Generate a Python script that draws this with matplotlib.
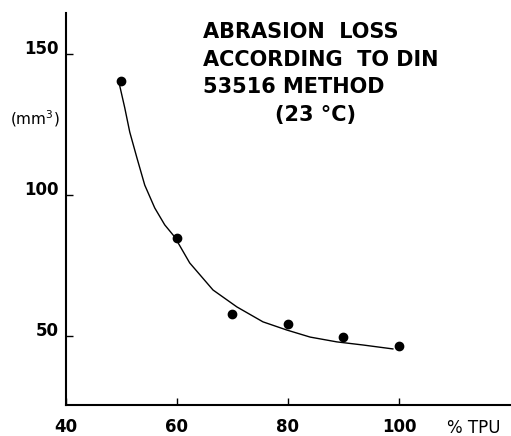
import matplotlib
matplotlib.use("Agg")
import matplotlib.pyplot as plt

# measured points
tpu = [50, 60, 70, 80, 90, 100]
loss = [140.4, 84.8, 57.8, 54.3, 49.6, 46.5]

# hand-drawn trend curve
curve_x = [49.5, 50.6, 51.5, 52.8, 54.2, 56.0, 57.8, 59.6, 62.3, 66.5,
           70.8, 75.5, 79.8, 84.0, 88.8, 93.5, 98.9]
curve_y = [140.4, 130.9, 122.3, 113.1, 103.5, 95.4, 89.4, 85.1, 75.9, 66.3,
           60.3, 55.0, 52.1, 49.6, 47.9, 46.8, 45.4]

xticks = [40, 60, 80, 100]
yticks = [50, 100, 150]

plt.rcParams['font.family'] = ['DejaVu Sans']

fig = plt.figure(figsize=(5.11, 4.36), dpi=100)
ax = fig.add_axes([0.129, 0.071, 0.869, 0.899])

ax.plot(curve_x, curve_y, color="black", linewidth=1.0)
ax.plot(tpu, loss, "o", color="black", markersize=6)

ax.set_xlim(40, 120)
ax.set_ylim(25.5, 164.5)

ax.spines['top'].set_visible(False)
ax.spines['right'].set_visible(False)
ax.spines['left'].set_linewidth(1.5)
ax.spines['bottom'].set_linewidth(1.5)

ax.set_xticks(xticks)
ax.set_yticks(yticks)
ax.tick_params(axis='both', direction='in', length=5, width=1, labelsize=12)
ax.tick_params(axis='x', pad=9)
ax.tick_params(axis='y', pad=5)
for lab in ax.get_xticklabels() + ax.get_yticklabels():
    lab.set_fontweight('bold')
for lab in ax.get_yticklabels():
    lab.set_va('baseline')

fig.text(447 / 511, 1 - 428 / 436, "% TPU", fontsize=12, va='center', ha='left',
         family='Liberation Sans Narrow')
fig.text(10 / 511, 1 - 119 / 436, "(mm$^3$)", fontsize=11, va='center', ha='left')

title_lines = ["ABRASION  LOSS", "ACCORDING  TO DIN", "53516 METHOD"]
for i, line in enumerate(title_lines):
    fig.text(203 / 511, 1 - (32 + 27.5 * i) / 436, line, fontsize=15,
             fontweight='bold', va='center', ha='left')
fig.text(275 / 511, 1 - 115 / 436, "(23 °C)", fontsize=15,
         fontweight='bold', va='center', ha='left')

fig.savefig("out.png", dpi=100)
